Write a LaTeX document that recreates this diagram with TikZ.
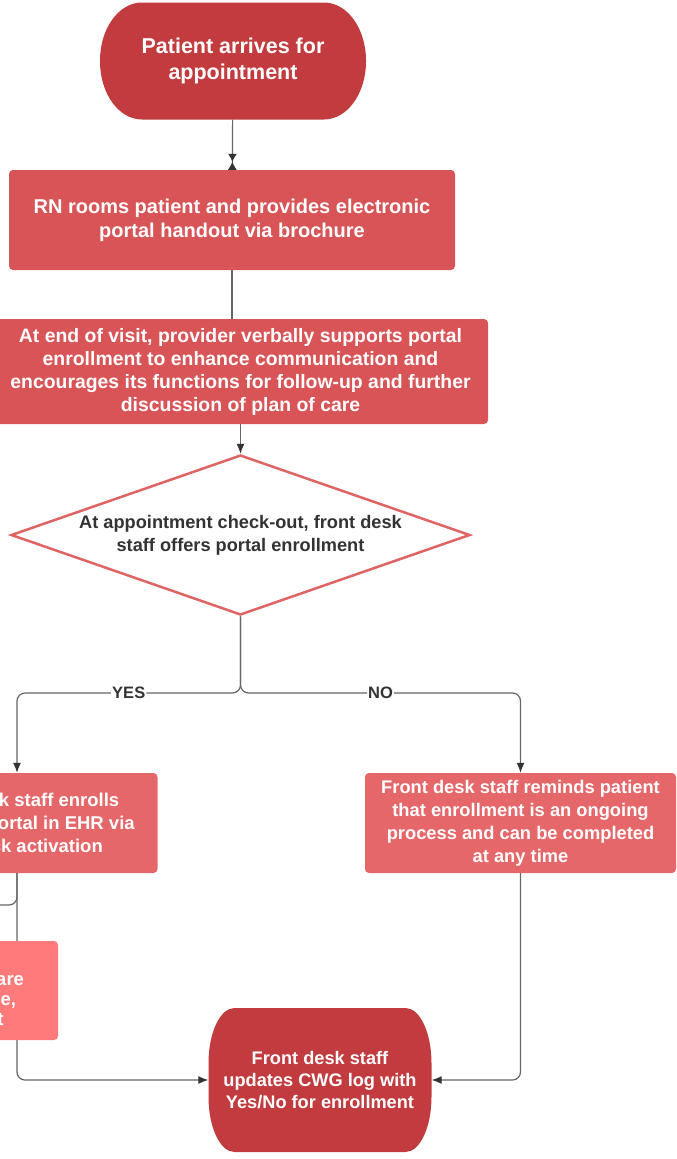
\documentclass[tikz,border=0pt]{standalone}
\usepackage{fontspec}
\setmainfont{Liberation Sans}
\usetikzlibrary{arrows.meta,shapes.geometric,calc}
\definecolor{termred}{HTML}{C23B3E}
\definecolor{boxred}{HTML}{D85457}
\definecolor{lightred}{HTML}{E5676A}
\definecolor{pinkred}{HTML}{FF7B7B}
\definecolor{decline}{HTML}{E06464}
\definecolor{linegray}{HTML}{666666}
\definecolor{inkgray}{HTML}{333333}

\begin{document}
\begin{tikzpicture}[
    x=1pt, y=1pt,
    >={Latex[length=10pt,width=8pt,color=inkgray]},
    termshape/.style 2 args={
      rectangle, draw=none, text=white, align=center, inner sep=0pt,
      path picture={
        \fill[termred] let \p1=(path picture bounding box.south west),
                           \p2=(path picture bounding box.north east) in
          (\x1+#1,\y1) -- (\x2-#1,\y1)
          arc[start angle=-90, end angle=0, x radius=#1, y radius=#2]
          -- (\x2,\y2-#2)
          arc[start angle=0, end angle=90, x radius=#1, y radius=#2]
          -- (\x1+#1,\y2)
          arc[start angle=90, end angle=180, x radius=#1, y radius=#2]
          -- (\x1,\y1+#2)
          arc[start angle=180, end angle=270, x radius=#1, y radius=#2]
          -- cycle;
      },
    },
    box/.style={
      rectangle, rounded corners=4pt,
      fill=boxred, draw=none,
      text=white, align=center, inner sep=3pt,
    },
    lightbox/.style={box, fill=lightred},
    pinkbox/.style={box, fill=pinkred},
    decbox/.style={
      diamond, aspect=2.87, draw=decline, line width=2.5pt, fill=white,
      text=inkgray, align=center, inner sep=0pt,
    },
    line/.style={draw=linegray, line width=1.2pt},
    arr/.style={line, ->},
    lab/.style={fill=white, inner sep=1pt, text=inkgray,
      font=\fontsize{16.5}{19}\selectfont\bfseries},
  ]
  \useasboundingbox (0,0) rectangle (677,-1159);
  \clip (0,0) rectangle (677,-1159);

  % ---- Arrival and rooming ----
  \node[termshape={42pt}{58pt}, minimum width=266pt, minimum height=117pt,
        font=\fontsize{21.5}{26}\selectfont\bfseries]
        (arrive) at (233,-61) {Patient arrives for\\appointment};

  \node[box, minimum width=446pt, minimum height=100pt,
        font=\fontsize{20}{24}\selectfont\bfseries]
        (rooms) at (232,-220) {RN rooms patient and provides electronic\\portal handout via brochure};

  \draw[line, -{Latex[length=8pt,width=9pt,color=inkgray] Latex[length=8pt,width=9pt,color=inkgray,reversed]}]
        (arrive) -- (rooms);

  % ---- Provider visit ----
  \node[box, minimum width=495pt, minimum height=105pt,
        font=\fontsize{19.4}{23}\selectfont\bfseries]
        (visit) at (240.5,-371.5) {At end of visit, provider verbally supports portal\\enrollment to enhance communication and\\encourages its functions for follow-up and further\\discussion of plan of care};

  \draw[line] (rooms.south) -- (rooms.south |- visit.north);

  % ---- Check-out decision ----
  \node[decbox, minimum width=459pt, minimum height=160pt,
        font=\fontsize{18.2}{23}\selectfont\bfseries]
        (offer) at (240.5,-535) {At appointment check-out, front desk\\staff offers portal enrollment};

  \draw[arr] (visit) -- (offer);

  % ---- Yes / No branches ----
  \node[lightbox, minimum width=281pt, minimum height=100pt,
        font=\fontsize{18.5}{23}\selectfont\bfseries]
        (yes) at (17,-823) {Front desk staff enrolls\\patient in portal in EHR via\\one-click activation};
  \node[lightbox, minimum width=311pt, minimum height=100pt,
        font=\fontsize{18.3}{23}\selectfont\bfseries]
        (no) at (520.5,-823) {Front desk staff reminds patient\\that enrollment is an ongoing\\process and can be completed\\at any time};

  \coordinate (split) at (240.5,-693);
  \draw[arr, rounded corners=8pt] (offer.south) -- (split)
        -| node[lab, pos=0.25] (yeslab) {YES} (yes.north);
  \draw[arr, rounded corners=8pt] (offer.south) -- (split)
        -| node[lab, pos=0.25] (nolab) {NO} (no.north);

  % ---- Log update ----
  \node[termshape={26pt}{55pt}, minimum width=223pt, minimum height=144pt,
        font=\fontsize{18.2}{22}\selectfont\bfseries]
        (cwg) at (320,-1080) {Front desk staff\\updates CWG log with\\Yes/No for enrollment};

  \coordinate (backin) at (-40,-905);
  \draw[line, rounded corners=8pt] (backin) -| (yes.south);
  \draw[arr, rounded corners=8pt] (yes.south) |- (cwg.west);
  \draw[arr, rounded corners=8pt] (no.south) |- (cwg.east);

  % box sits over the yes line
  \node[pinkbox, minimum width=288pt, minimum height=99pt,
        font=\fontsize{18.5}{20}\selectfont\bfseries]
        (reasons) at (-86,-990.5) {If declined,\\barriers patients face are\\noted, e.g. device, age,\\time, lack of interest};

\end{tikzpicture}
\end{document}
